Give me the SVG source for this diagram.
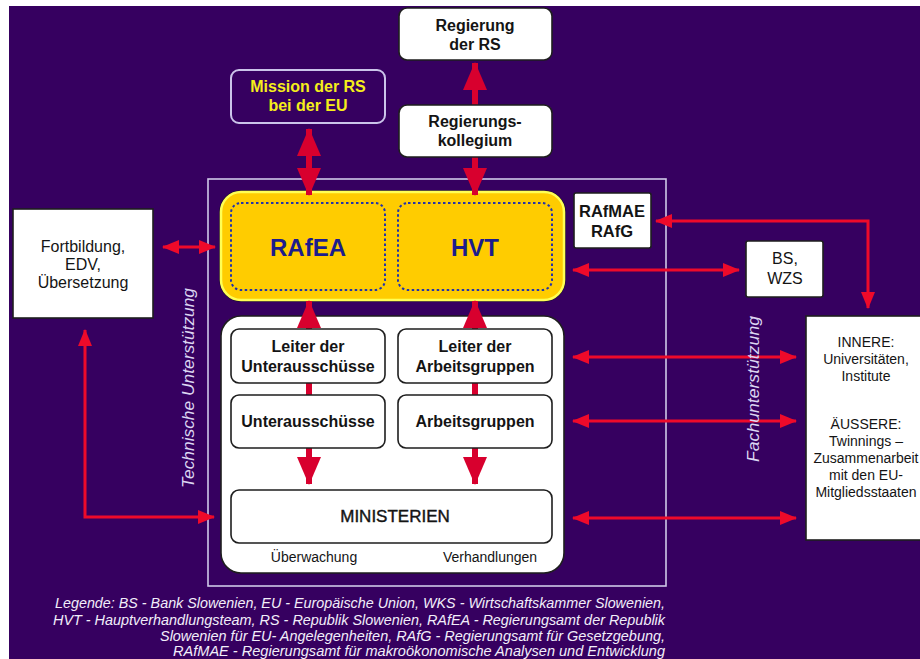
<svg xmlns="http://www.w3.org/2000/svg" width="920" height="659" viewBox="0 0 920 659">
<defs>
<style>
text{font-family:"Liberation Sans",Arial,sans-serif;}
.wb{fill:#ffffff;stroke:#1e1e1e;stroke-width:1.6;}
.lbl{font-size:16px;fill:#141414;text-anchor:middle;}
.b{font-weight:bold;}
.big{font-size:24px;font-weight:bold;fill:#1c1c8c;text-anchor:middle;}
.dot{fill:none;stroke:#2233aa;stroke-width:2;stroke-dasharray:2.5 2.5;}
.thick{stroke:#d8002e;stroke-width:6;fill:none;}
.thin{stroke:#ee0a2a;stroke-width:3;fill:none;}
.side{font-size:17px;font-style:italic;fill:#dcd6f2;text-anchor:middle;}
.leg{font-size:14px;font-style:italic;fill:#f2eefa;text-anchor:end;}
</style>
<marker id="hk" markerUnits="userSpaceOnUse" markerWidth="28" markerHeight="24" refX="27" refY="12" orient="auto-start-reverse" viewBox="0 0 28 24">
<path d="M0,0 L28,12 L0,24 z" fill="#d8002e"/>
</marker>
<marker id="hn" markerUnits="userSpaceOnUse" markerWidth="17" markerHeight="14" refX="16" refY="7" orient="auto-start-reverse" viewBox="0 0 17 14">
<path d="M0,0 L17,7 L0,14 z" fill="#ee0a2a"/>
</marker>
</defs>
<rect x="0" y="0" width="920" height="659" fill="#ffffff"/>
<rect x="9" y="6" width="911" height="653" fill="#360060"/>

<g id="frame">
<rect x="208" y="179" width="458" height="407" fill="none" stroke="#cfc8e8" stroke-width="1.6"/>
</g>
<g id="yellow-panel">
<rect x="220" y="191" width="345" height="110" rx="21" fill="none" stroke="#1a1030" stroke-width="1.5"/>
<rect x="221" y="192" width="343" height="108" rx="20" fill="#ffcc00" stroke="#ffff55" stroke-width="2.5"/>
</g>
<g id="white-panel">
<rect x="221" y="316" width="343" height="257" rx="20" fill="#ffffff" stroke="#1e1e1e" stroke-width="1.6"/>
</g>

<g id="connectors">
<line class="thick" x1="309" y1="160" x2="309" y2="129" marker-end="url(#hk)"/>
<line class="thick" x1="309" y1="160" x2="309" y2="195" marker-end="url(#hk)"/>
<line class="thick" x1="475" y1="105" x2="475" y2="63" marker-end="url(#hk)"/>
<line class="thick" x1="475" y1="157" x2="475" y2="195" marker-end="url(#hk)"/>
<line class="thick" x1="309" y1="420" x2="309" y2="301" marker-end="url(#hk)"/>
<line class="thick" x1="309" y1="420" x2="309" y2="484" marker-end="url(#hk)"/>
<line class="thick" x1="475" y1="420" x2="475" y2="301" marker-end="url(#hk)"/>
<line class="thick" x1="475" y1="420" x2="475" y2="484" marker-end="url(#hk)"/>
<line class="thin" x1="163" y1="247" x2="215" y2="247" marker-start="url(#hn)" marker-end="url(#hn)"/>
<path class="thin" d="M85,330 V517 H214" marker-start="url(#hn)" marker-end="url(#hn)"/>
<path class="thin" d="M656,221 H868 V308" marker-start="url(#hn)" marker-end="url(#hn)"/>
<line class="thin" x1="573" y1="270" x2="739" y2="270" marker-start="url(#hn)" marker-end="url(#hn)"/>
<line class="thin" x1="573" y1="357" x2="796" y2="357" marker-start="url(#hn)" marker-end="url(#hn)"/>
<line class="thin" x1="573" y1="421" x2="796" y2="421" marker-start="url(#hn)" marker-end="url(#hn)"/>
<line class="thin" x1="573" y1="518" x2="796" y2="518" marker-start="url(#hn)" marker-end="url(#hn)"/>
</g>

<g id="regierung">
<rect class="wb" x="399" y="8" width="153" height="52" rx="8"/>
<text class="lbl b" x="475" y="31">Regierung</text>
<text class="lbl b" x="475" y="50">der RS</text>
</g>
<g id="kollegium">
<rect class="wb" x="399" y="105" width="153" height="52" rx="8"/>
<text class="lbl b" x="475" y="127">Regierungs-</text>
<text class="lbl b" x="475" y="146">kollegium</text>
</g>
<g id="mission">
<rect x="231" y="70" width="154" height="53" rx="8" fill="#360060" stroke="#cbc4ea" stroke-width="2"/>
<text class="lbl b" x="308" y="92" style="fill:#f5ee1a">Mission der RS</text>
<text class="lbl b" x="308" y="111" style="fill:#f5ee1a">bei der EU</text>
</g>
<g id="rafea">
<rect class="dot" x="231" y="203" width="154" height="87" rx="10"/>
<text class="big" x="308" y="256">RAfEA</text>
</g>
<g id="hvt">
<rect class="dot" x="398" y="203" width="154" height="87" rx="10"/>
<text class="big" x="475" y="256">HVT</text>
</g>
<g id="rafmae">
<rect class="wb" x="574" y="193" width="77" height="55" rx="2"/>
<text class="lbl b" x="612" y="217" style="font-size:16.5px">RAfMAE</text>
<text class="lbl b" x="612" y="237" style="font-size:16.5px">RAfG</text>
</g>
<g id="bs">
<rect class="wb" x="746" y="241" width="77" height="56" rx="2"/>
<text class="lbl" x="785" y="264">BS,</text>
<text class="lbl" x="785" y="284">WZS</text>
</g>
<g id="fortbildung">
<rect class="wb" x="13" y="209" width="140" height="109"/>
<text class="lbl" x="83" y="252">Fortbildung,</text>
<text class="lbl" x="83" y="270">EDV,</text>
<text class="lbl" x="83" y="288">Übersetzung</text>
</g>
<g id="leiter-ua">
<rect class="wb" x="231" y="329" width="154" height="54" rx="8"/>
<text class="lbl b" x="308" y="352">Leiter der</text>
<text class="lbl b" x="308" y="372">Unterausschüsse</text>
</g>
<g id="leiter-ag">
<rect class="wb" x="398" y="329" width="154" height="54" rx="8"/>
<text class="lbl b" x="475" y="352">Leiter der</text>
<text class="lbl b" x="475" y="372">Arbeitsgruppen</text>
</g>
<g id="unterausschuesse">
<rect class="wb" x="231" y="395" width="154" height="53" rx="8"/>
<text class="lbl b" x="308" y="427">Unterausschüsse</text>
</g>
<g id="arbeitsgruppen">
<rect class="wb" x="398" y="395" width="154" height="53" rx="8"/>
<text class="lbl b" x="475" y="427">Arbeitsgruppen</text>
</g>
<g id="ministerien">
<rect class="wb" x="231" y="490" width="321" height="53" rx="8"/>
<text class="lbl" x="395" y="522" style="font-size:17px;stroke:#141414;stroke-width:0.4">MINISTERIEN</text>
<text class="lbl" x="314" y="562" style="font-size:14px">Überwachung</text>
<text class="lbl" x="490" y="562" style="font-size:14px">Verhandlungen</text>
</g>
<g id="innere">
<rect class="wb" x="806" y="316" width="124" height="224"/>
<text class="lbl" x="866" y="347" style="font-size:14px">INNERE:</text>
<text class="lbl" x="866" y="364" style="font-size:14px">Universitäten,</text>
<text class="lbl" x="866" y="381" style="font-size:14px">Institute</text>
<text class="lbl" x="866" y="429" style="font-size:14px">ÄUSSERE:</text>
<text class="lbl" x="866" y="446" style="font-size:14px">Twinnings –</text>
<text class="lbl" x="866" y="463" style="font-size:14px">Zusammenarbeit</text>
<text class="lbl" x="866" y="480" style="font-size:14px">mit den EU-</text>
<text class="lbl" x="866" y="497" style="font-size:14px">Mitgliedsstaaten</text>
</g>

<text class="side" transform="translate(194,388) rotate(-90)" textLength="200" lengthAdjust="spacingAndGlyphs">Technische Unterstützung</text>
<text class="side" transform="translate(759,389) rotate(-90)" textLength="146" lengthAdjust="spacingAndGlyphs">Fachunterstützung</text>

<g id="legend">
<text class="leg" x="665" y="608" textLength="610" lengthAdjust="spacingAndGlyphs">Legende: BS - Bank Slowenien, EU - Europäische Union, WKS - Wirtschaftskammer Slowenien,</text>
<text class="leg" x="665" y="625" textLength="612" lengthAdjust="spacingAndGlyphs">HVT - Hauptverhandlungsteam, RS - Republik Slowenien, RAfEA - Regierungsamt der Republik</text>
<text class="leg" x="665" y="641" textLength="505" lengthAdjust="spacingAndGlyphs">Slowenien für EU- Angelegenheiten, RAfG - Regierungsamt für Gesetzgebung,</text>
<text class="leg" x="665" y="656" textLength="492" lengthAdjust="spacingAndGlyphs">RAfMAE - Regierungsamt für makroökonomische Analysen und Entwicklung</text>
</g>
</svg>
